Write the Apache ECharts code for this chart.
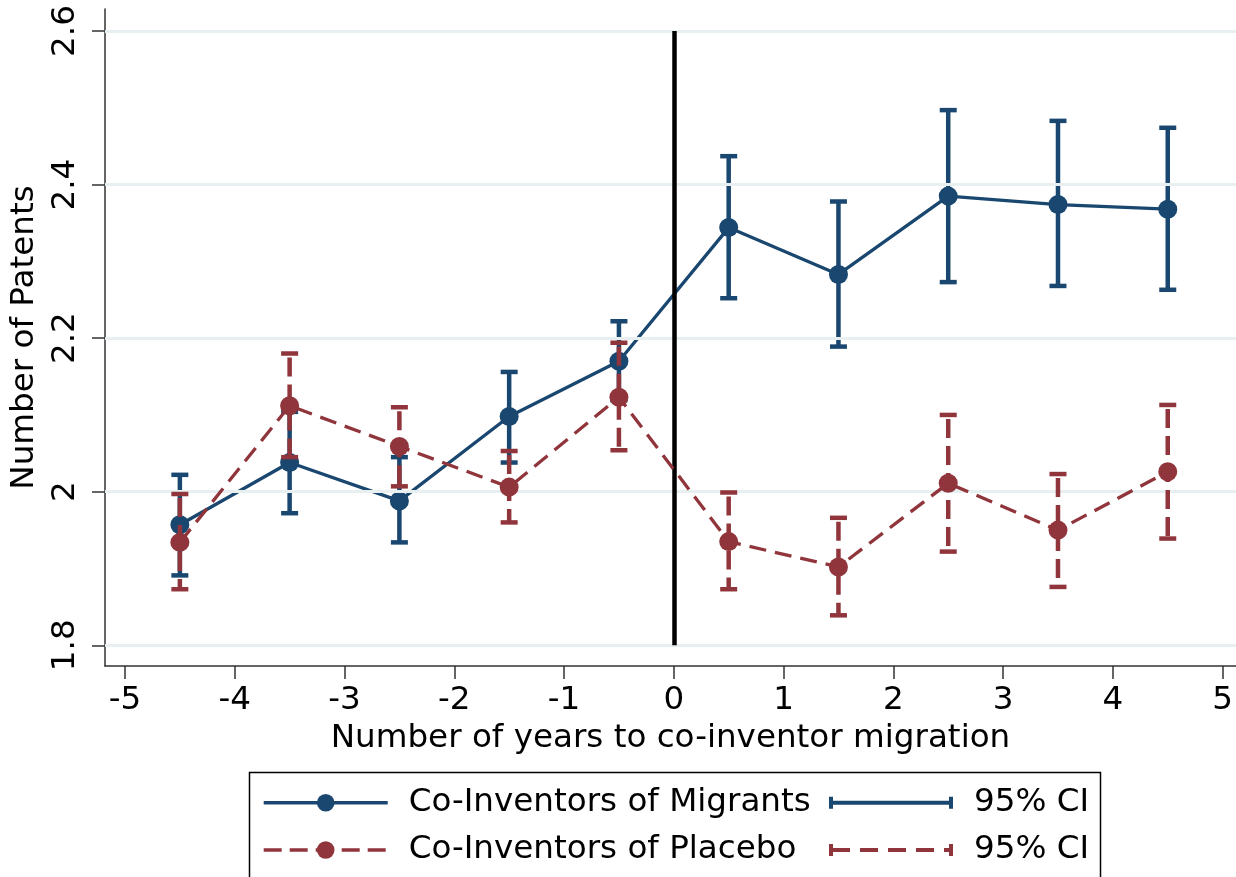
<!DOCTYPE html>
<html><head><meta charset="utf-8">
<script src="https://cdn.jsdelivr.net/npm/echarts@6/dist/echarts.min.js"></script>
<style>html,body{margin:0;padding:0;background:#fff}#c{width:1236px;height:877px}</style>
</head><body><div id="c"></div>
<script>
const xValues = [-4.5, -3.5, -2.5, -1.5, -0.5, 0.5, 1.5, 2.5, 3.5, 4.5];
const migrantsMean = [1.957, 2.038, 1.988, 2.098, 2.170, 2.344, 2.283, 2.385, 2.374, 2.368];
const migrantsLow  = [1.891, 1.972, 1.934, 2.038, 2.119, 2.252, 2.189, 2.273, 2.268, 2.263];
const migrantsHigh = [2.022, 2.104, 2.045, 2.156, 2.222, 2.437, 2.378, 2.497, 2.483, 2.474];
const placeboMean = [1.934, 2.112, 2.059, 2.006, 2.123, 1.935, 1.902, 2.011, 1.950, 2.026];
const placeboLow  = [1.873, 2.045, 2.007, 1.960, 2.054, 1.873, 1.839, 1.922, 1.876, 1.939];
const placeboHigh = [1.997, 2.180, 2.110, 2.053, 2.194, 1.999, 1.966, 2.100, 2.023, 2.113];
const xTicks = [-5, -4, -3, -2, -1, 0, 1, 2, 3, 4, 5];
const yTicks = [1.8, 2.0, 2.2, 2.4, 2.6];
const eventX = 0;

const BLUE = '#1a476f', RED = '#90353b';
const FONT = 'DejaVu Sans', FS = 32.6;

function ciRender(dash) {
  return function (params, api) {
    const x = api.value(0), lo = api.value(1), hi = api.value(2);
    const pLo = api.coord([x, lo]), pHi = api.coord([x, hi]);
    const hw = 8.5;
    const c = api.visual('color');
    return {
      type: 'group',
      children: [
        { type: 'line', shape: { x1: pHi[0], y1: pHi[1] + (dash ? 4 : 0), x2: pLo[0], y2: pLo[1] },
          style: { stroke: c, lineWidth: 4.5, lineDash: dash || null, fill: null } },
        { type: 'line', shape: { x1: pHi[0] - hw, y1: pHi[1], x2: pHi[0] + hw, y2: pHi[1] },
          style: { stroke: c, lineWidth: 4.5, fill: null } },
        { type: 'line', shape: { x1: pLo[0] - hw, y1: pLo[1], x2: pLo[0] + hw, y2: pLo[1] },
          style: { stroke: c, lineWidth: 4.5, fill: null } }
      ]
    };
  };
}

const iconSolid = 'path://M0,0h4v12h-4z M0,4h124v4h-124z M120,0h4v12h-4z';
const iconDash = 'path://M0,0h4v12h-4z M0,4h21v4h-21z M31,4h18v4h-18z M59,4h18v4h-18z M87,4h18v4h-18z M115,4h9v4h-9z M120,0h4v12h-4z';

const chart = echarts.init(document.getElementById('c'), null, { renderer: 'canvas' });
const legendText = { fontFamily: FONT, fontSize: FS, color: '#000', lineHeight: 36, padding: [0, 0, 0, 16] };
chart.setOption({
  animation: false,
  backgroundColor: '#fff',
  textStyle: { fontFamily: FONT },
  grid: { left: 105, right: 0, top: 9, bottom: 211, containLabel: false },
  xAxis: {
    type: 'value', min: -5.182, max: 5.121,
    name: 'Number of years to co-inventor migration', nameLocation: 'middle', nameGap: 47,
    nameTextStyle: { fontFamily: FONT, fontSize: FS, color: '#000' },
    axisLine: { show: true, onZero: false, lineStyle: { color: '#333', width: 1.5 } },
    axisTick: { show: true, customValues: xTicks, length: 13, lineStyle: { color: '#333', width: 1.5 } },
    axisLabel: { customValues: xTicks, fontFamily: FONT, fontSize: FS, color: '#000', margin: 18 },
    splitLine: { show: false }
  },
  yAxis: {
    type: 'value', min: 1.773, max: 2.6287,
    name: 'Number of Patents', nameLocation: 'middle', nameGap: 64,
    nameTextStyle: { fontFamily: FONT, fontSize: FS, color: '#000' },
    axisLine: { show: true, onZero: false, lineStyle: { color: '#333', width: 1.5 } },
    axisTick: { show: true, customValues: yTicks, length: 13, lineStyle: { color: '#333', width: 1.5 } },
    axisLabel: { customValues: yTicks, rotate: 90, fontFamily: FONT, fontSize: FS, color: '#000', margin: 23,
      formatter: v => (Math.abs(v - 2) < 1e-9 ? '2' : v.toFixed(1)) },
    splitLine: { show: false }
  },
  legend: [
    { data: [
        { name: 'Co-Inventors of Migrants', lineStyle: { width: 3.4, type: 'solid' } },
        { name: 'Co-Inventors of Placebo', lineStyle: { width: 3.4, type: [18, 8] } }
      ], orient: 'vertical', left: 262, top: 784.7,
      padding: 0, itemWidth: 124, itemHeight: 22, itemGap: 11.3, textStyle: legendText, selectedMode: false },
    { data: [{ name: '95% CI', icon: iconSolid }, { name: '95% CI ', icon: iconDash }], orient: 'vertical', left: 829, top: 784.7,
      padding: 0, itemWidth: 124, itemHeight: 12, itemGap: 11.3, textStyle: legendText, selectedMode: false,
      formatter: n => n.trim() }
  ],
  graphic: [
    { type: 'rect', shape: { x: 249.5, y: 772.5, width: 851, height: 120 },
      style: { fill: null, stroke: '#000', lineWidth: 1.5 }, z: 0 }
  ],
  series: [
    { type: 'line', name: 'grid', data: [[0, 2]], showSymbol: false, lineStyle: { opacity: 0 }, z: 1, silent: true,
      markLine: { silent: true, symbol: 'none', label: { show: false }, animation: false,
        lineStyle: { color: '#e8eff1', width: 3, type: 'solid' },
        data: yTicks.map(v => ({ yAxis: v })) } },
    { type: 'custom', name: '95% CI', color: BLUE, z: 3, renderItem: ciRender(null),
      encode: { x: 0, y: [1, 2] },
      data: xValues.map((x, i) => [x, migrantsLow[i], migrantsHigh[i]]) },
    { type: 'line', name: 'Co-Inventors of Migrants', color: BLUE, z: 4,
      symbol: 'circle', symbolSize: 19, lineStyle: { width: 3.3, color: BLUE }, itemStyle: { color: BLUE },
      data: xValues.map((x, i) => [x, migrantsMean[i]]) },
    { type: 'custom', name: '95% CI ', color: RED, z: 5, renderItem: ciRender([19, 8]),
      encode: { x: 0, y: [1, 2] },
      data: xValues.map((x, i) => [x, placeboLow[i], placeboHigh[i]]) },
    { type: 'line', name: 'Co-Inventors of Placebo', color: RED, z: 6,
      symbol: 'circle', symbolSize: 19, lineStyle: { width: 3.3, color: RED, type: [17, 9] }, itemStyle: { color: RED },
      data: xValues.map((x, i) => [x, placeboMean[i]]) },
    { type: 'line', name: 'event', data: [[0, 2]], showSymbol: false, lineStyle: { opacity: 0 }, z: 7, silent: true,
      markLine: { silent: true, symbol: 'none', label: { show: false }, animation: false,
        lineStyle: { color: '#000', width: 4.5, type: 'solid' },
        data: [[{ coord: [eventX, yTicks[yTicks.length - 1]] }, { coord: [eventX, yTicks[0]] }]] } }
  ]
});
</script></body></html>
